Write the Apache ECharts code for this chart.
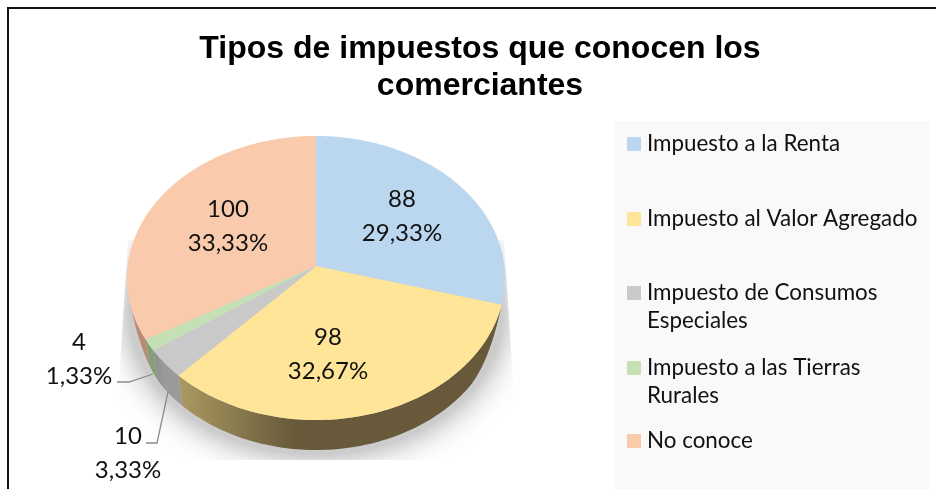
<!DOCTYPE html>
<html><head><meta charset="utf-8">
<style>html,body{margin:0;padding:0;background:#fff}#c{width:936px;height:489px}</style>
<script src="https://cdn.jsdelivr.net/npm/echarts@6/dist/echarts.min.js"></script>
</head><body><div id="c"></div>
<script>
const categories = ['Impuesto a la Renta','Impuesto al Valor Agregado','Impuesto de Consumos Especiales','Impuesto a las Tierras Rurales','No conoce'];
const values = [88,98,10,4,100];
const titleLines = 'Tipos de impuestos que conocen los\ncomerciantes';
const legendFirstLines = ['Impuesto a la Renta','Impuesto al Valor Agregado','Impuesto de Consumos','Impuesto a las Tierras','No conoce'];
const legendSecondLines = ['', '', 'Especiales', 'Rurales', ''];
const colors = ['#bbd7ef','#fee598','#c9c9c9','#c5e0b4','#f9cbac'];
const sideFrom = ['#5f6a72','#ab9a62','#8c8c8c','#84a078','#c8987c'];
const sideTo = ['#5f6a72','#67593a','#9a9a9a','#84a078','#b88a70'];
const labelPos = [[402,216],[328,354],[128,453],[79,359],[228,226]];
const leaders = [null,null,[[168,392],[157,443],[146,443]],[[153,374],[129,382],[117,382]],null];
const legendY = [143,218,292,367,440];

// perspective view of the pie disc
const CX=316, CY=266, F=2228, G=1668, D=11.83, DEPTH=30, SHRINK=0.975;
const total = values.reduce((a,b)=>a+b,0);
function proj(a, low){
  const u=Math.sin(a), v=-Math.cos(a), w=D-v;
  let t=0;
  if(low){ t=Math.min(1,Math.max(0,(v-0.27)/0.35)); t=t*t*(3-2*t); t=Math.sqrt(t); }
  const k=1-(1-SHRINK)*t;
  return [CX+u*F/w*k, CY+v*G/w+DEPTH*t];
}
function arcPts(a0,a1,low){
  const n=Math.max(2,Math.ceil((a1-a0)/0.02)), p=[];
  for(let i=0;i<=n;i++) p.push(proj(a0+(a1-a0)*i/n,low));
  return p;
}
const starts=[]; let acc=0;
values.forEach(v=>{starts.push(acc/total*2*Math.PI); acc+=v;});
const fmtPct=v=>(v/total*100).toFixed(2).replace('.',',')+'%';

function renderSlice(idx){
  return function(){
    const a0=starts[idx], a1=a0+values[idx]/total*2*Math.PI;
    const kids=[];
    const s0=Math.max(a0,Math.PI/2*1.1), s1=Math.min(a1,Math.PI*1.42);
    if(s1>s0){
      const top=arcPts(s0,s1,false), low=arcPts(s0,s1,true).reverse();
      const xs=top.concat(low).map(p=>p[0]);
      kids.push({type:'polygon',z2:1,shape:{points:top.concat(low)},
        style:{fill:{type:'linear',x:Math.min(...xs),y:0,x2:Math.max(...xs),y2:0,global:true,
          colorStops:[{offset:0,color:sideFrom[idx]},{offset:0.36,color:sideTo[idx]},{offset:1,color:sideTo[idx]}]}}});
    }
    kids.push({type:'polygon',z2:2,shape:{points:[[CX,CY]].concat(arcPts(a0,a1,false))},style:{fill:colors[idx]}});
    if(leaders[idx]) kids.push({type:'polyline',z2:3,shape:{points:leaders[idx]},style:{stroke:'#8c8c8c',lineWidth:1.3,fill:null}});
    kids.push({type:'text',z2:4,x:labelPos[idx][0],y:labelPos[idx][1],
      style:{text:values[idx]+'\n'+fmtPct(values[idx]),font:'24px Lato',fill:'#111',align:'center',verticalAlign:'middle',lineHeight:34}});
    return {type:'group',children:kids};
  };
}
// soft shadow behind the disc, cut off like the reference picture
function renderShadow(){
  const pts=arcPts(0,2*Math.PI,false).map(p=>[CX+(p[0]-CX)*0.99,p[1]+34]);
  return {type:'polygon',shape:{points:pts},
    style:{fill:'#cccccc',shadowBlur:34,shadowColor:'rgba(0,0,0,0.42)'},
    clipPath:{type:'polygon',shape:{points:[[128,240],[504,240],[518,460],[114,460]]}}};
}
const series=[{type:'custom',name:'sombra',coordinateSystem:'none',silent:true,z:1,data:[0],renderItem:renderShadow}];
categories.forEach((c,i)=>series.push({type:'custom',name:c,coordinateSystem:'none',silent:true,z:2,
  itemStyle:{color:colors[i]},data:[values[i]],renderItem:renderSlice(i)}));

const legends=categories.map((c,i)=>({
  data:[{name:c,icon:'rect',itemStyle:{color:colors[i]}}],left:627,top:legendY[i]-13,
  itemWidth:14,itemHeight:14,itemGap:0,selectedMode:false,padding:0,
  formatter:()=>legendFirstLines[i],
  textStyle:{fontFamily:'Lato',fontSize:22.4,color:'#111',padding:[0,0,0,1],height:28,lineHeight:28}
}));

const chart=echarts.init(document.getElementById('c'),null,{renderer:'canvas'});
chart.setOption({
  animation:false,backgroundColor:'#fff',
  title:{text:titleLines,left:475,top:26,textAlign:'center',
    textStyle:{fontFamily:'Liberation Sans',fontWeight:'bold',fontSize:32,lineHeight:37,color:'#000'}},
  legend:legends,
  graphic:[
    {type:'rect',z:-10,silent:true,shape:{x:615,y:121,width:314,height:368},style:{fill:'#f9f9f9'}},
    {type:'polyline',z:50,silent:true,shape:{points:[[8,489],[8,8],[936,8]]},style:{stroke:'#111',lineWidth:2,fill:null}},
    ...legendSecondLines.map((t,i)=>({type:'text',z:50,silent:true,x:647,y:legendY[i]+29,
      style:{text:t,font:'22.4px Lato',fill:'#111',verticalAlign:'middle'}}))
  ],
  series
});
</script></body></html>
